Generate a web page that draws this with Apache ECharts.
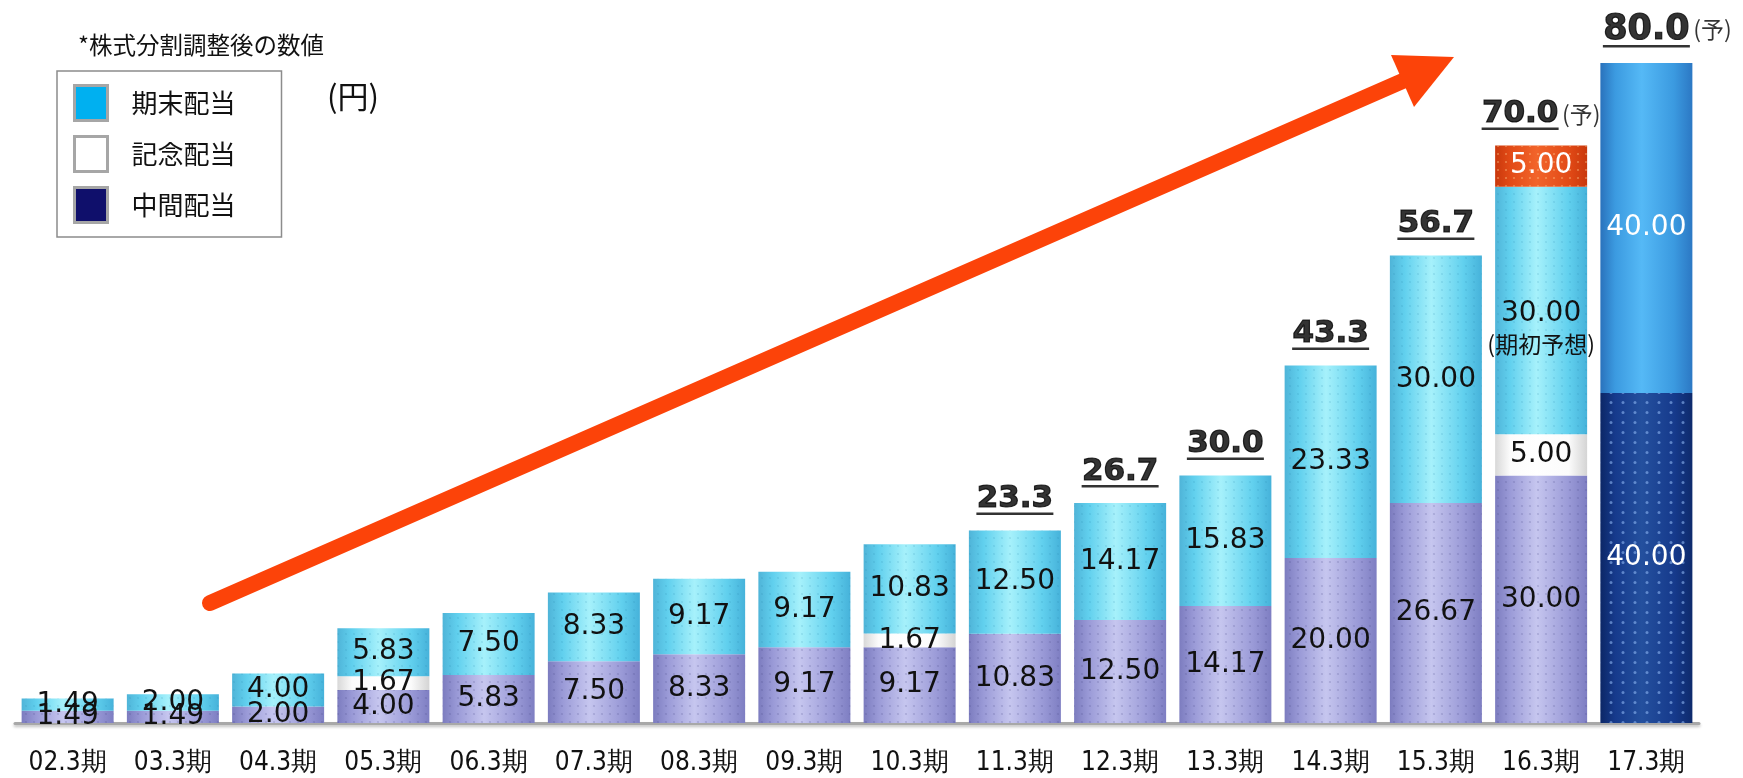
<!DOCTYPE html>
<html>
<head>
<meta charset="utf-8">
<script src="https://cdn.jsdelivr.net/npm/echarts@6/dist/echarts.min.js"></script>
<style>
  html, body { margin: 0; padding: 0; background: #ffffff; }
  #chart { width: 1743px; height: 778px; }
</style>
</head>
<body>
<div id="chart"></div>
<script>
// Fiscal periods and dividend per share (yen, split-adjusted)
const categories = ['02.3期', '03.3期', '04.3期', '05.3期', '06.3期', '07.3期', '08.3期', '09.3期',
                    '10.3期', '11.3期', '12.3期', '13.3期', '14.3期', '15.3期', '16.3期', '17.3期'];
const interimDiv       = [1.49, 1.49, 2.00, 4.00, 5.83, 7.50, 8.33, 9.17, 9.17, 10.83, 12.50, 14.17, 20.00, 26.67, 30.00, 40.00];
const commemorativeDiv = [0, 0, 0, 1.67, 0, 0, 0, 0, 1.67, 0, 0, 0, 0, 0, 5.00, 0];
const yearEndDiv       = [1.49, 2.00, 4.00, 5.83, 7.50, 8.33, 9.17, 9.17, 10.83, 12.50, 14.17, 15.83, 23.33, 30.00, 30.00, 40.00];
const additionalDiv    = [0, 0, 0, 0, 0, 0, 0, 0, 0, 0, 0, 0, 0, 0, 5.00, 0];
const yearEndNotes     = ['', '', '', '', '', '', '', '', '', '', '', '', '', '', '期初予想', ''];
const totalShown       = [false, false, false, false, false, false, false, false, false, true, true, true, true, true, true, true];
const isForecast       = [false, false, false, false, false, false, false, false, false, false, false, false, false, false, true, true];

const legendNames = ['期末配当', '記念配当', '中間配当'];
const noteText = '*株式分割調整後の数値';
const unitText = '(円)';
const forecastMark = '(予)';

const LAST = categories.length - 1;
const NUM_FONT = 'DejaVu Sans';
const JP_FONT = 'Noto Sans CJK JP';
const VALUE_SIZE = 28;

// horizontal shading that gives each bar a rounded, cylinder-like look
function cylinder(edgeL, mid, hi, edgeR) {
  return new echarts.graphic.LinearGradient(0, 0, 1, 0, [
    { offset: 0, color: edgeL },
    { offset: 0.16, color: mid },
    { offset: 0.45, color: hi },
    { offset: 0.8, color: mid },
    { offset: 1, color: edgeR }
  ]);
}
const cyanFill = cylinder('#4fb4d8', '#61d0ee', '#a6f1fb', '#46b2da');
const lavenderFill = cylinder('#7c7cbf', '#9a9ad7', '#c6c6ef', '#7e7ec2');
const whiteFill = cylinder('#d8d8d8', '#fbfbfb', '#ffffff', '#d4d4d4');
const orangeFill = cylinder('#c9380c', '#e24a16', '#f2642a', '#c9380c');
const blueFill = cylinder('#2a72bc', '#3b9ae0', '#55b9f6', '#2c78c4');
const navyFill = cylinder('#0c2766', '#163a8c', '#24509e', '#0e2a6c');

const fineDots = (color) => ({ symbol: 'circle', symbolSize: 0.55, color: color, dashArrayX: 4, dashArrayY: 4 });

const fmt2 = (v) => Number(v).toFixed(2);

// stacked segment data; zero parts are left empty
function segmentData(values, extra) {
  return values.map((v, i) => {
    if (!v) return { value: null };
    const item = { value: v };
    if (extra) Object.assign(item, extra(i, v) || {});
    return item;
  });
}

const insideLabel = {
  show: true,
  position: 'inside',
  fontSize: VALUE_SIZE,
  fontFamily: NUM_FONT,
  color: '#111111',
  formatter: (p) => fmt2(p.value)
};

// width helper for the underline beneath each total
const measureCtx = document.createElement('canvas').getContext('2d');
function textWidth(text, font) {
  measureCtx.font = font;
  return measureCtx.measureText(text).width;
}

const totals = categories.map((c, i) =>
  interimDiv[i] + commemorativeDiv[i] + yearEndDiv[i] + additionalDiv[i]);

const MARK_SIZE = 23;
const totalData = categories.map((c, i) => {
  if (!totalShown[i]) return null;
  const fs = i === LAST ? 35 : 31;
  const txt = totals[i].toFixed(1);
  const wn = Math.round(textWidth(txt, 'bold ' + fs + 'px "' + NUM_FONT + '"')) + 1;
  const rich = {
    n: { fontSize: fs, fontWeight: 'bold', fontFamily: NUM_FONT, color: '#000000', lineHeight: fs - 4,
         textBorderColor: '#000000', textBorderWidth: 1.2 },
    u: { width: wn, height: 2.5, lineHeight: 2.5, fontSize: 1, backgroundColor: '#000000' }
  };
  let formatter = '{n|' + txt + '}\n{u|}';
  if (isForecast[i]) {
    const ws = Math.round(textWidth(forecastMark, MARK_SIZE + 'px "' + JP_FONT + '"')) + 3;
    rich.p = { width: ws, fontSize: 1 };
    rich.s = { width: ws, fontSize: MARK_SIZE, fontFamily: JP_FONT, color: '#000000', align: 'right' };
    rich.q = { width: ws, height: 2.5, lineHeight: 2.5, fontSize: 1 };
    // the last figure keeps its number centred over the bar, the mark hangs to the right
    formatter = i === LAST
      ? '{p|}{n|' + txt + '}{s|' + forecastMark + '}\n{q|}{u|}{q|}'
      : '{n|' + txt + '}{s|' + forecastMark + '}\n{u|}{q|}';
  }
  return {
    value: [i, totals[i]],
    label: { show: true, position: 'top', distance: 15, color: '#000000', formatter: formatter, rich: rich }
  };
}).filter(Boolean);

const chart = echarts.init(document.getElementById('chart'), null, { renderer: 'canvas' });

chart.setOption({
  animation: false,
  backgroundColor: '#ffffff',
  grid: { left: 15, right: 44, top: 30, bottom: 55 },
  legend: {
    orient: 'vertical',
    left: 57,
    top: 71,
    padding: [13, 46, 13, 16],
    itemWidth: 33,
    itemHeight: 35,
    itemGap: 13,
    icon: 'rect',
    selectedMode: false,
    borderColor: '#8c8c8c',
    borderWidth: 1.5,
    itemStyle: { borderColor: '#a6a6a6', borderWidth: 3 },
    textStyle: { fontSize: 26, fontFamily: JP_FONT, color: '#111111', padding: [0, 0, 0, 19] },
    data: [
      { name: legendNames[0], itemStyle: { color: '#00b0f0' } },
      { name: legendNames[1], itemStyle: { color: '#ffffff' } },
      { name: legendNames[2], itemStyle: { color: '#0f0f6b' } }
    ]
  },
  xAxis: {
    type: 'category',
    data: categories,
    axisTick: { show: false },
    axisLine: {
      lineStyle: { color: '#a8a8a8', width: 3, shadowColor: 'rgba(0,0,0,0.25)', shadowBlur: 3, shadowOffsetY: 2 }
    },
    axisLabel: { fontSize: 26, fontFamily: 'DejaVu Sans Condensed', color: '#111111', margin: 27 }
  },
  yAxis: { type: 'value', min: 0, max: 84, show: false },
  graphic: [
    {
      type: 'text', left: 78, top: 33, z: 10,
      style: { text: noteText, font: '23.5px "' + JP_FONT + '"', fill: '#111111' }
    },
    {
      type: 'text', left: 327, top: 81, z: 10,
      style: { text: unitText, font: '31px "' + JP_FONT + '"', fill: '#111111' }
    },
    {
      // growth arrow
      type: 'group', z: 20,
      children: [
        {
          type: 'line',
          shape: { x1: 210, y1: 603, x2: 1405, y2: 80 },
          style: { stroke: '#fc4309', lineWidth: 16, lineCap: 'round' }
        },
        {
          type: 'polygon',
          shape: { points: [[1454, 57], [1391, 55], [1414, 107]] },
          style: { fill: '#fc4309' }
        }
      ]
    }
  ],
  series: [
    {
      name: legendNames[2],
      type: 'bar',
      stack: 'dividend',
      barWidth: 92,
      itemStyle: { color: lavenderFill },
      label: insideLabel,
      data: segmentData(interimDiv, (i) => i === LAST ? {
        itemStyle: { color: navyFill, decal: { symbol: 'circle', symbolSize: 0.6, color: 'rgba(140,180,240,0.6)', dashArrayX: 6, dashArrayY: 5 } },
        label: { color: '#ffffff' }
      } : { itemStyle: { decal: fineDots('rgba(70,70,130,0.22)') } })
    },
    {
      name: legendNames[1],
      type: 'bar',
      stack: 'dividend',
      itemStyle: { color: whiteFill },
      label: insideLabel,
      data: segmentData(commemorativeDiv)
    },
    {
      name: legendNames[0],
      type: 'bar',
      stack: 'dividend',
      itemStyle: { color: cyanFill },
      label: insideLabel,
      data: segmentData(yearEndDiv, (i, v) => {
        if (i === LAST) {
          return { itemStyle: { color: blueFill }, label: { color: '#ffffff' } };
        }
        const item = { itemStyle: { decal: fineDots('rgba(40,130,170,0.16)') } };
        if (yearEndNotes[i]) {
          item.label = {
            offset: [0, 17],
            formatter: '{v|' + fmt2(v) + '}\n{m|(' + yearEndNotes[i] + ')}',
            rich: {
              v: { fontSize: VALUE_SIZE, fontFamily: NUM_FONT, color: '#111111', lineHeight: 34 },
              m: { fontSize: 23, fontFamily: JP_FONT, color: '#111111', lineHeight: 28 }
            }
          };
        }
        return item;
      })
    },
    {
      name: 'additional',
      type: 'bar',
      stack: 'dividend',
      itemStyle: { color: orangeFill },
      label: Object.assign({}, insideLabel, { color: '#ffffff' }),
      data: segmentData(additionalDiv, () => ({ itemStyle: { decal: fineDots('rgba(255,200,140,0.45)') } }))
    },
    {
      name: 'total',
      type: 'scatter',
      symbol: 'rect',
      symbolSize: 1,
      itemStyle: { color: 'rgba(0,0,0,0)' },
      silent: true,
      z: 5,
      data: totalData
    }
  ]
});
</script>
</body>
</html>
